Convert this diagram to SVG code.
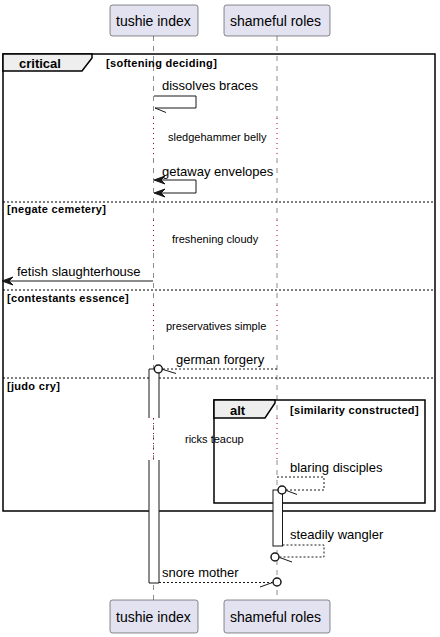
<svg xmlns="http://www.w3.org/2000/svg" width="440" height="637" viewBox="0 0 440 637">
<style>
.part{fill:#E2E2F0;stroke:#181818;stroke-width:0.5}
.pt{font-family:"Liberation Sans",Arial,sans-serif;font-size:14px;fill:#000}
.life{stroke:#181818;stroke-width:0.5;stroke-dasharray:5,5;fill:none}
.delay{stroke:#A80036;stroke-width:1;stroke-dasharray:1,4;fill:none}
.frame{fill:none;stroke:#000;stroke-width:1.5}
.tab{fill:#EEEEEE;stroke:#000;stroke-width:1.5}
.sep{stroke:#000;stroke-width:1;stroke-dasharray:2,2}
.ft{font-family:"Liberation Sans",Arial,sans-serif;font-size:13px;font-weight:bold;fill:#000}
.gt{font-family:"Liberation Sans",Arial,sans-serif;font-size:11px;font-weight:bold;fill:#000;letter-spacing:0.3px}
.msg{font-family:"Liberation Sans",Arial,sans-serif;font-size:13px;fill:#000}
.dt{font-family:"Liberation Sans",Arial,sans-serif;font-size:11px;fill:#000}
.ln{fill:none;stroke:#181818;stroke-width:1}
.dl{fill:none;stroke:#181818;stroke-width:1;stroke-dasharray:2,2}
.head{fill:#181818;stroke:#181818;stroke-width:1}
.circ{fill:#fff;stroke:#181818;stroke-width:1.5}
.act{fill:#fff;stroke:#181818;stroke-width:1}
</style>
<g id="lifelines">
<path class="life" d="M153.5,36 V118 M153.5,158 V220 M153.5,253 V305 M153.5,335 V600"/>
<path class="delay" d="M153.5,118 V158 M153.5,220 V253 M153.5,305 V335 M153.5,418 V460"/>
<path class="life" d="M277,36 V118 M277,158 V220 M277,253 V305 M277,335 V418 M277,460 V600"/>
<path class="delay" d="M277,118 V158 M277,220 V253 M277,305 V335 M277,418 V460"/>
</g>
<g id="participant-tushie-top">
<rect class="part" x="110" y="5" width="88" height="31" rx="2.5"/>
<text class="pt" x="116" y="26">tushie index</text>
</g>
<g id="participant-shameful-top">
<rect class="part" x="224" y="5" width="106" height="31" rx="2.5"/>
<text class="pt" x="230" y="26">shameful roles</text>
</g>
<g id="participant-tushie-bottom">
<rect class="part" x="110" y="600" width="88" height="33" rx="2.5"/>
<text class="pt" x="116" y="622">tushie index</text>
</g>
<g id="participant-shameful-bottom">
<rect class="part" x="224" y="600" width="106" height="33" rx="2.5"/>
<text class="pt" x="230" y="622">shameful roles</text>
</g>
<g id="frame-critical">
<rect class="frame" x="3" y="54" width="432" height="457"/>
<polygon class="tab" points="3,54 92,54 92,58 82,71 3,71"/>
<text class="ft" x="19" y="68">critical</text>
<text class="gt" x="106" y="67">[softening deciding]</text>
<line class="sep" x1="3" y1="202" x2="435" y2="202"/>
<text class="gt" x="7" y="213">[negate cemetery]</text>
<line class="sep" x1="3" y1="290" x2="435" y2="290"/>
<text class="gt" x="7" y="302">[contestants essence]</text>
<line class="sep" x1="3" y1="378" x2="435" y2="378"/>
<text class="gt" x="7" y="390">[judo cry]</text>
</g>
<g id="activation-tushie">
<rect x="149" y="369" width="10" height="49" fill="#fff"/>
<rect x="149" y="460" width="10" height="123" fill="#fff"/>
<path class="ln" d="M149,418 V369 H159 V418 M149,460 V583 H159 V460"/>
</g>
<g id="frame-alt">
<rect class="frame" x="214" y="400" width="211" height="103"/>
<polygon class="tab" points="214,400 275,400 275,403 265,418 214,418"/>
<text class="ft" x="230" y="415">alt</text>
<text class="gt" x="290" y="414">[similarity constructed]</text>
</g>
<g id="activation-shameful">
<rect class="act" x="273" y="490" width="9.5" height="56"/>
</g>
<g id="delays">
<text class="dt" x="168" y="141">sledgehammer belly</text>
<text class="dt" x="172" y="242.5">freshening cloudy</text>
<text class="dt" x="166" y="330">preservatives simple</text>
<text class="dt" x="185" y="443">ricks teacup</text>
</g>
<g id="connectors">
<path class="ln" d="M154,96 H196 V108 H155"/>
<line class="ln" x1="155" y1="108" x2="166" y2="112.5"/>
<text class="msg" x="162" y="90">dissolves braces</text>

<path class="ln" d="M156,180 H196 V193 H156"/>
<polygon class="head" points="154,180 165,176 161,180 165,184"/>
<polygon class="head" points="154,193 165,189 161,193 165,197"/>
<text class="msg" x="162" y="176">getaway envelopes</text>

<line class="ln" x1="153" y1="281" x2="4" y2="281"/>
<polygon class="head" points="2,281 13,277 9,281 13,285"/>
<text class="msg" x="17" y="276">fetish slaughterhouse</text>

<line class="dl" x1="277" y1="369" x2="162.5" y2="369"/>
<circle class="circ" cx="158.3" cy="369" r="4"/>
<line class="ln" x1="163" y1="369.5" x2="176" y2="373.5"/>
<text class="msg" x="176" y="364">german forgery</text>

<path class="dl" d="M277,477 H324 V490 H286"/>
<circle class="circ" cx="282" cy="490" r="4"/>
<line class="ln" x1="286.5" y1="490.5" x2="297" y2="494.5"/>
<text class="msg" x="290" y="472">blaring disciples</text>

<path class="dl" d="M282.5,545 H324 V557 H279.5"/>
<circle class="circ" cx="275" cy="557" r="4"/>
<line class="ln" x1="279.5" y1="557.5" x2="292" y2="562"/>
<text class="msg" x="290" y="539">steadily wangler</text>

<line class="dl" x1="159" y1="582.5" x2="272.5" y2="582.5"/>
<circle class="circ" cx="277" cy="582" r="4"/>
<line class="ln" x1="272.5" y1="582.5" x2="260" y2="587"/>
<text class="msg" x="162" y="577">snore mother</text>
</g>
</svg>
